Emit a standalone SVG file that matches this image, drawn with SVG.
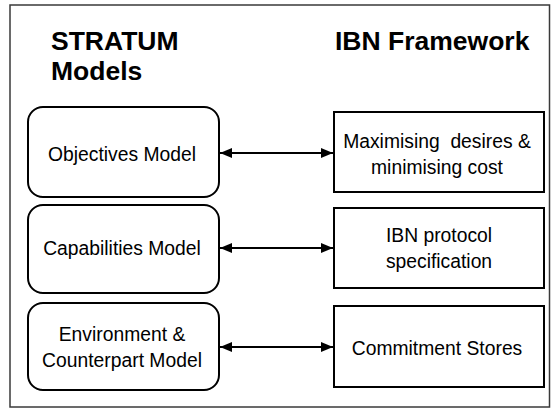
<svg xmlns="http://www.w3.org/2000/svg" width="551" height="410" viewBox="0 0 551 410">
<defs>
<style>
.frame{fill:#fff;stroke:#3a3a3a;stroke-width:1.5}
.node{fill:#fff;stroke:#000;stroke-width:2}
.t{font-family:"Liberation Sans",Arial,Helvetica,sans-serif;font-size:21px;fill:#000;text-anchor:middle}
.h{font-family:"Liberation Sans",Arial,Helvetica,sans-serif;font-size:26.5px;font-weight:bold;fill:#000}
.c{stroke:#000;stroke-width:2;fill:none;marker-start:url(#ah);marker-end:url(#ah)}
</style>
<marker id="ah" viewBox="0 0 12 10" refX="12" refY="5" markerWidth="12" markerHeight="10" markerUnits="userSpaceOnUse" orient="auto-start-reverse">
<path d="M0,0 L12,5 L0,10 Z" fill="#000"/>
</marker>
</defs>
<rect class="frame" x="10" y="5" width="539.5" height="402"/>
<g id="titles">
<text class="h" x="51" y="50">STRATUM</text>
<text class="h" x="51" y="80">Models</text>
<text class="h" x="335" y="50">IBN Framework</text>
</g>
<g id="objectives">
<rect class="node" x="28" y="107" width="191" height="90" rx="15"/>
<text class="t" transform="matrix(0.92,0,0,1,122,0)" x="0" y="161">Objectives Model</text>
</g>
<g id="capabilities">
<rect class="node" x="28" y="205" width="191" height="88" rx="15"/>
<text class="t" transform="matrix(0.92,0,0,1,122,0)" x="0" y="255">Capabilities Model</text>
</g>
<g id="environment">
<rect class="node" x="28" y="303" width="191" height="87" rx="15"/>
<text class="t" transform="matrix(0.92,0,0,1,122,0)" x="0" y="341">Environment &amp;</text>
<text class="t" transform="matrix(0.92,0,0,1,122,0)" x="0" y="367">Counterpart Model</text>
</g>
<g id="maximising">
<rect class="node" x="334" y="112" width="210" height="80"/>
<text class="t" transform="matrix(0.92,0,0,1,437,0)" x="0" y="148" xml:space="preserve">Maximising  desires &amp;</text>
<text class="t" transform="matrix(0.92,0,0,1,437,0)" x="0" y="174">minimising cost</text>
</g>
<g id="protocol">
<rect class="node" x="334" y="208" width="210" height="80"/>
<text class="t" transform="matrix(0.92,0,0,1,439,0)" x="0" y="242">IBN protocol</text>
<text class="t" transform="matrix(0.92,0,0,1,439,0)" x="0" y="268">specification</text>
</g>
<g id="stores">
<rect class="node" x="334" y="306" width="210" height="81"/>
<text class="t" transform="matrix(0.92,0,0,1,437,0)" x="0" y="355">Commitment Stores</text>
</g>
<g id="connectors">
<line class="c" x1="220" y1="153" x2="333" y2="153"/>
<line class="c" x1="220" y1="248" x2="333" y2="248"/>
<line class="c" x1="220" y1="347" x2="333" y2="347"/>
</g>
</svg>
